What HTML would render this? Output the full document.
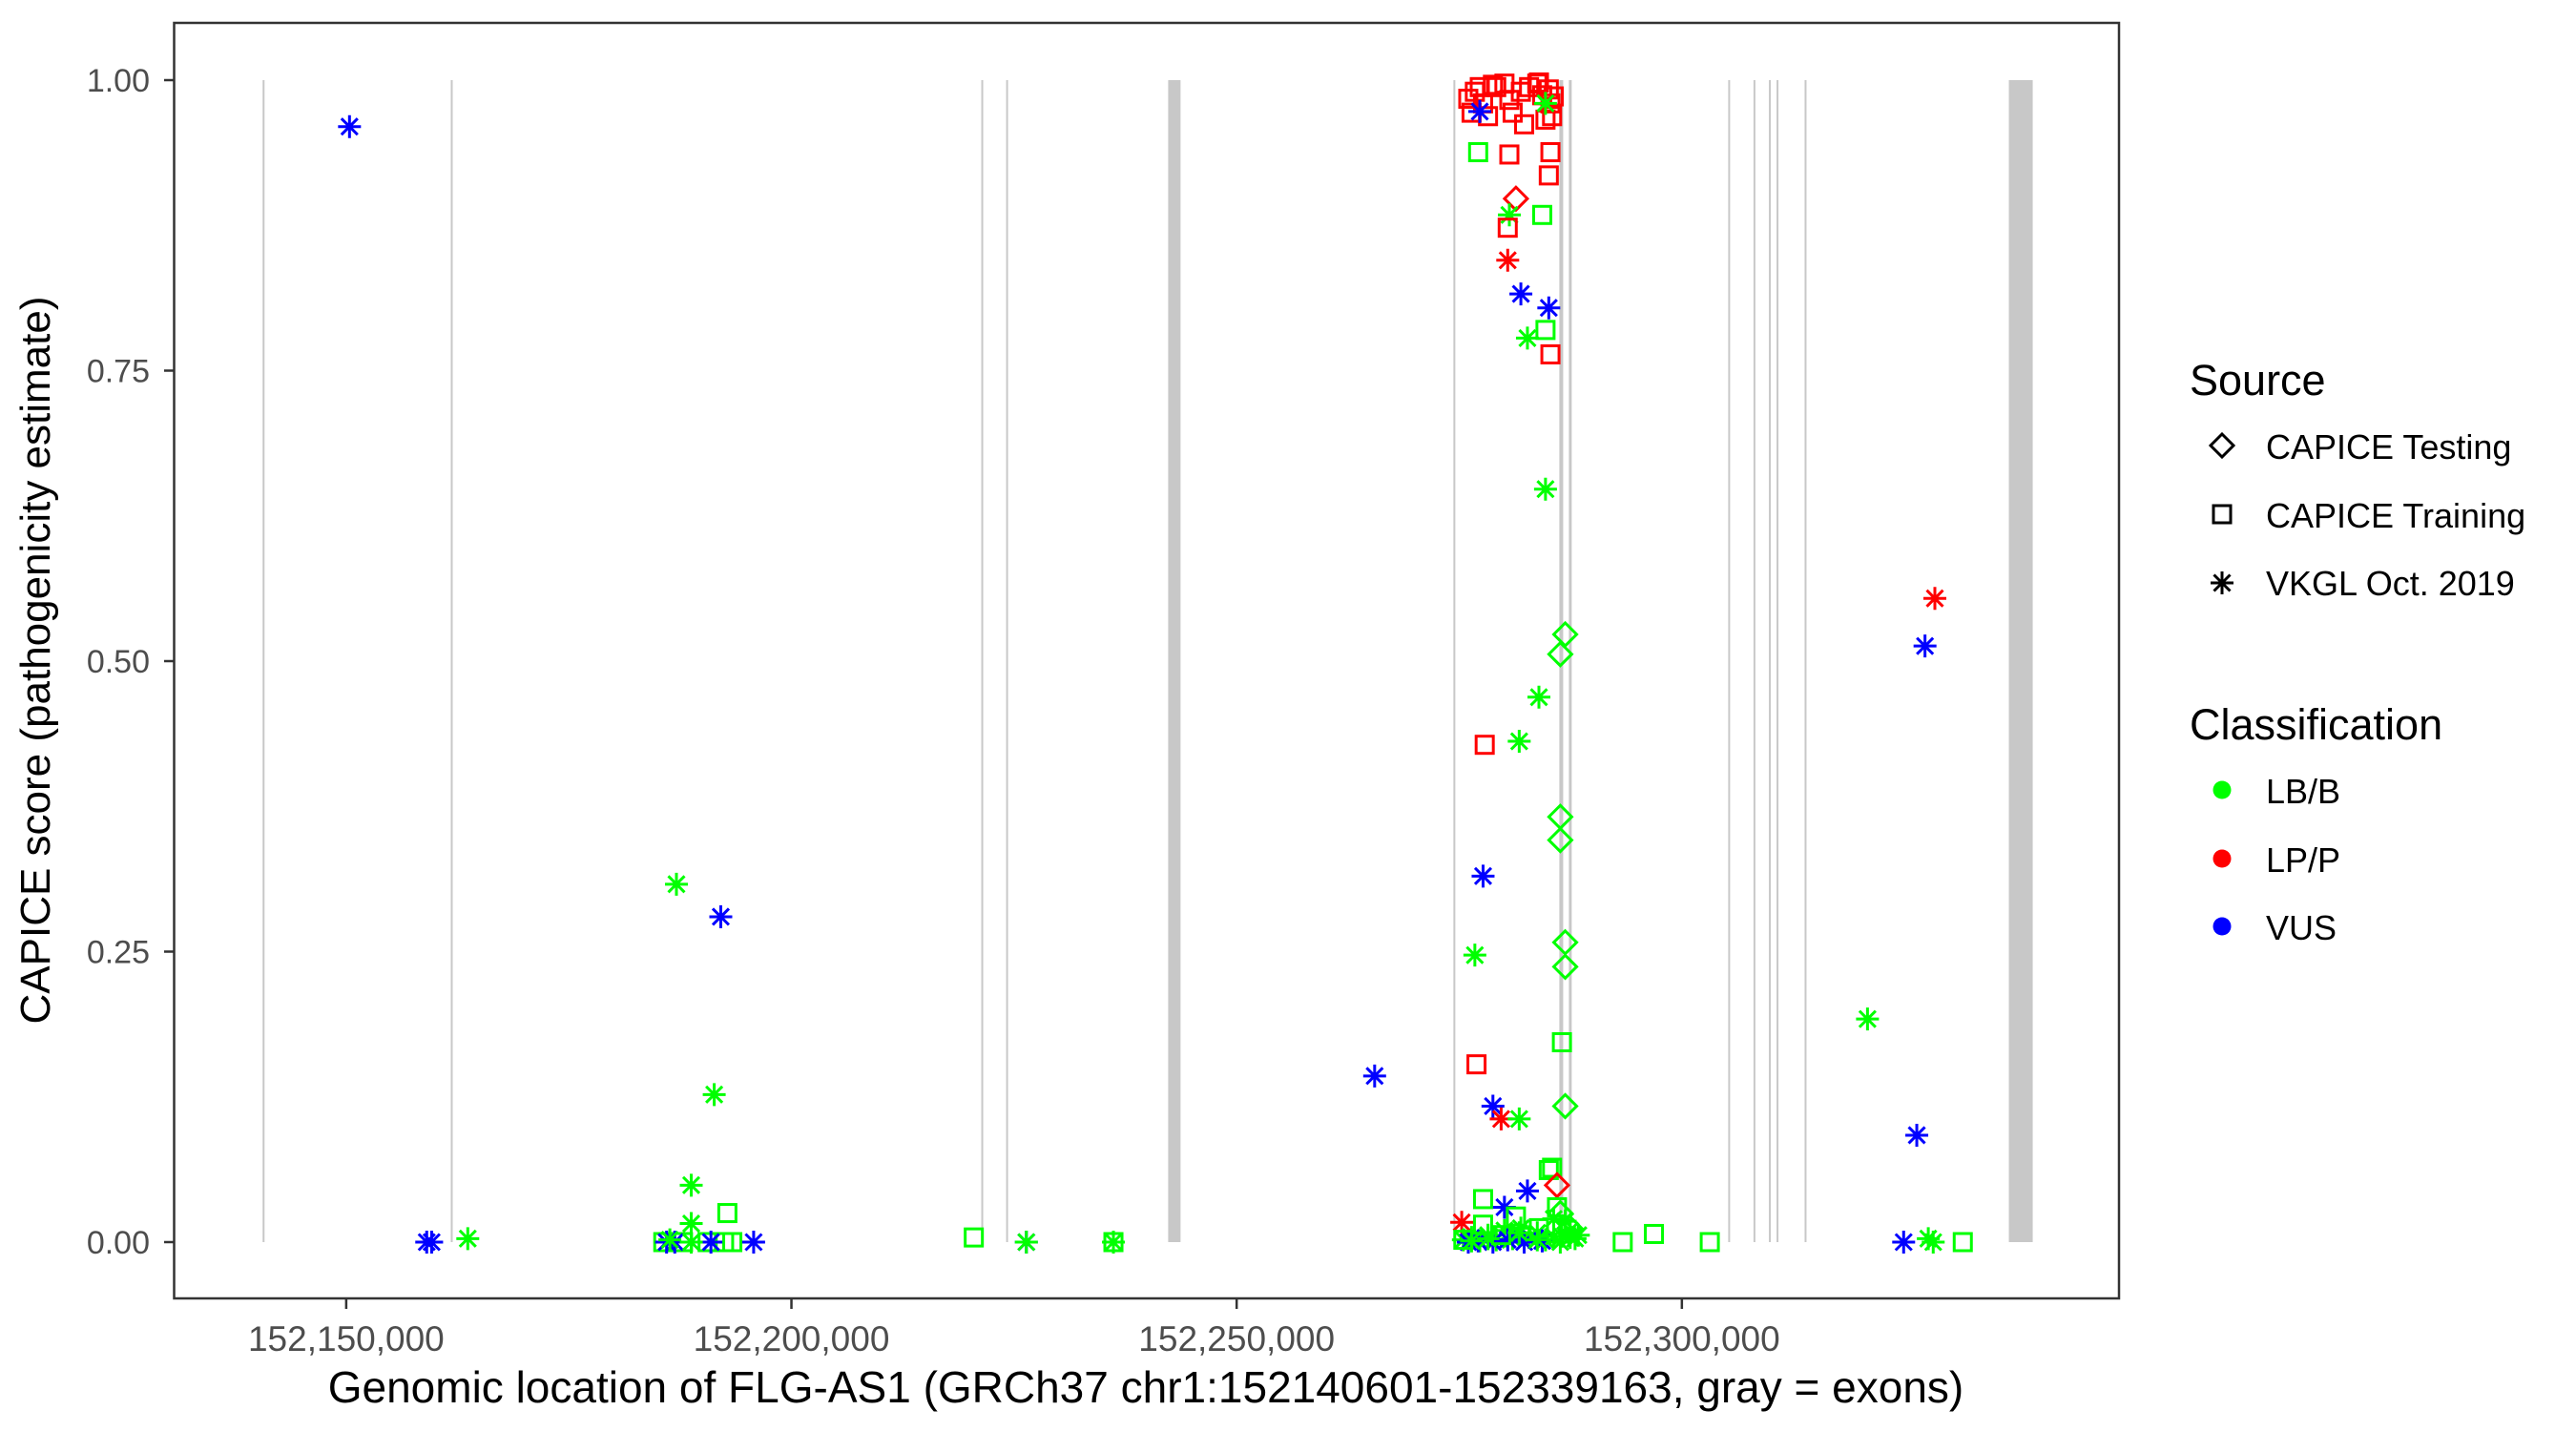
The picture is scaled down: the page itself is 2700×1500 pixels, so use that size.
<!DOCTYPE html>
<html><head><meta charset="utf-8"><style>
html,body{margin:0;padding:0;background:#fff;}
svg{display:block;font-family:"Liberation Sans",Arial,sans-serif;}
</style></head><body>
<svg id="chart" width="2700" height="1500" viewBox="0 0 2700 1500" xmlns="http://www.w3.org/2000/svg">
<rect x="0" y="0" width="2700" height="1500" fill="#fff"/>
<g id="exons"></g>
<g id="points"></g>
<rect x="182.5" y="24" width="2038.5" height="1337" fill="none" stroke="#333" stroke-width="2.5"/>
<g id="yaxis"></g>
<g id="xaxis"></g>
<text x="1201" y="1470" font-size="46" text-anchor="middle" fill="#000">Genomic location of FLG-AS1 (GRCh37 chr1:152140601-152339163, gray = exons)</text>
<text transform="translate(52,692) rotate(-90)" font-size="44" text-anchor="middle" fill="#000">CAPICE score (pathogenicity estimate)</text>
<g>
<text x="2295" y="414" font-size="45" fill="#000">Source</text>
<g>
<path d="M2329,455 L2341,467 L2329,479 L2317,467 Z" fill="none" stroke="#000" stroke-width="3"/>
<text x="2375" y="481" font-size="36" fill="#000">CAPICE Testing</text></g>
<g>
<rect x="2320" y="530" width="18" height="18" fill="none" stroke="#000" stroke-width="3"/>
<text x="2375" y="553" font-size="36" fill="#000">CAPICE Training</text></g>
<g>
<path d="M2317,611 H2341 M2329,599 V623 M2320.5,602.5 L2337.5,619.5 M2337.5,602.5 L2320.5,619.5" stroke="#000" stroke-width="3"/>
<text x="2375" y="624" font-size="36" fill="#000">VKGL Oct. 2019</text></g>
<text x="2295" y="775" font-size="45" fill="#000">Classification</text>
<g>
<circle cx="2329" cy="828" r="9.5" fill="#00ff00"/>
<text x="2375" y="842" font-size="36" fill="#000">LB/B</text></g>
<g>
<circle cx="2329" cy="900" r="9.5" fill="#ff0000"/>
<text x="2375" y="914" font-size="36" fill="#000">LP/P</text></g>
<g>
<circle cx="2329" cy="971" r="9.5" fill="#0000ff"/>
<text x="2375" y="985" font-size="36" fill="#000">VUS</text></g>
</g>
</svg>
<script>
// exon ranges (genomic)
const exonStarts = [152140720,152161850,152221430,152224220,152242310,152274450,152286240,152287310,152305310,152308150,152309880,152310740,152313890,152336720];
const exonEnds   = [152140720,152161850,152221430,152224220,152243700,152274450,152286670,152287630,152305310,152308150,152309880,152310740,152313890,152339400];
const xTicks = [152150000,152200000,152250000,152300000];
const xTickLabels = ["152,150,000","152,200,000","152,250,000","152,300,000"];
const yTicks = [0,0.25,0.5,0.75,1];
const yTickLabels = ["0.00","0.25","0.50","0.75","1.00"];
// points: genomic position, score, source (T=testing,R=training,V=VKGL), class (B,P,U)
const pos = [
152150369,152159041,152159594,152163653,
152187085,152192066,152191328,152188745,152188745,152192804,
152185609,152187823,152190590,152192435,152193358,
152185978,152186900,152190959,152195756,152186347,152188745,
152220479,152226383,152226383,152236162,152236162,152265497,
152276014,152276383,152277305,152278228,152280073,152280626,152281918,152282840,152283763,152284316,152285239,152285608,152280995,152282287,152284685,152285423,152279150,152277674,152276752,152278781,152283947,152285054,
152277305,152284685,
152277121,152280626,152285239,152285054,
152281364,152280626,152284316,152280442,152280442,
152281918,152285054,152284685,152282656,152285239,152284685,
152328412,152327305,152286899,152286346,152283947,152277859,152281733,152286346,152286346,152277674,152276752,152286899,152286899,152320847,152286530,152276936,
152278781,152279704,152281733,152286899,152326382,152285054,152285423,152285977,152282656,152277674,152275276,152280073,
152275460,152276383,152277305,152278228,152279150,152280073,152280995,152281918,152282840,152283763,152284685,152285608,152286530,152287453,152288006,152288375,
152276014,152277121,152278781,152280442,152282287,152284316,152286346,152287453,
152275460,152277674,152279704,152281364,152283947,152285977,
152276383,152278228,152281733,152283763,152285608,152286899,
152287453,152286346,
152293357,152296862,152303135,152324906,152327674,152328227,152331548];
const score = [
0.960,0,0,0.003,
0.308,0.280,0.127,0.049,0.016,0.025,
0,0,0,0,0,
0,0,0,0,0.002,0,
0.004,0,0,0,0,0.143,
0.984,0.972,0.994,0.969,0.997,0.983,0.990,0.994,0.997,0.987,0.980,0.986,0.972,0.962,0.966,0.969,0.994,0.980,0.990,0.996,0.998,0.992,
0.973,0.980,
0.938,0.936,0.938,0.918,
0.898,0.884,0.884,0.873,0.845,
0.816,0.804,0.785,0.778,0.764,0.648,
0.554,0.513,0.523,0.506,0.469,0.428,0.431,0.366,0.346,0.315,0.247,0.258,0.237,0.192,0.172,0.153,
0.117,0.106,0.106,0.117,0.092,0.062,0.064,0.049,0.044,0.037,0.017,0.030,
0.002,0.004,0.001,0.006,0.002,0.010,0.003,0.012,0.004,0.008,0.002,0.020,0.005,0.010,0.003,0.006,
0.000,0.001,0.000,0.002,0.000,0.001,0.000,0.004,
0.002,0.015,0.006,0.022,0.012,0.030,
0.001,0.003,0.008,0.002,0.005,0.018,
0.012,0.025,
0,0.007,0,0,0.003,0,0];
const source = [
'V','V','V','V',
'V','V','V','V','V','R',
'R','R','R','R','R',
'V','V','V','V','V','V',
'R','V','V','V','R','V',
'R','R','R','R','R','R','R','R','R','R','R','R','R','R','R','R','R','R','R','R','R','R',
'V','V',
'R','R','R','R',
'T','V','R','R','V',
'V','V','R','V','R','V',
'V','V','T','T','V','R','V','T','T','V','V','T','T','V','R','R',
'V','V','V','T','V','R','R','T','V','R','V','V',
'V','V','V','V','V','V','V','V','V','V','V','V','V','V','V','V',
'V','V','V','V','V','V','V','V',
'R','R','R','R','R','R',
'V','V','V','V','V','V',
'T','T',
'R','R','R','V','V','V','R'];
const cls = [
'U','U','U','B',
'B','U','B','B','B','B',
'B','B','B','B','B',
'U','U','U','U','B','B',
'B','U','B','B','B','U',
'P','P','P','P','P','P','P','P','P','P','P','P','P','P','P','P','P','P','P','P','P','P',
'U','B',
'B','P','P','P',
'P','B','B','P','P',
'U','U','B','B','P','B',
'P','U','B','B','B','P','B','B','B','U','B','B','B','B','B','P',
'U','P','B','B','U','B','B','P','U','B','P','U',
'B','B','B','B','B','B','B','B','B','B','B','B','B','B','B','B',
'U','U','U','U','U','U','B','B',
'B','B','B','B','B','B',
'B','B','B','B','B','B',
'B','B',
'B','B','B','U','B','B','B'];

const NS = "http://www.w3.org/2000/svg";
const X0 = 152130673, X1 = 152349091, PL = 182.5, PR = 2221;
function xs(v){ return PL + (v - X0) / (X1 - X0) * (PR - PL); }
function ys(v){ return 1302 - v * 1218; }
const colors = {B:'#00ff00', P:'#ff0000', U:'#0000ff'};

const exG = document.getElementById('exons');
for (let i = 0; i < exonStarts.length; i++) {
  const x1 = xs(exonStarts[i]), x2 = xs(exonEnds[i]);
  const r = document.createElementNS(NS, 'rect');
  const w = Math.max(2, x2 - x1);
  r.setAttribute('x', (x1 + x2) / 2 - w / 2);
  r.setAttribute('y', ys(1));
  r.setAttribute('width', w);
  r.setAttribute('height', ys(0) - ys(1));
  r.setAttribute('fill', '#c8c8c8');
  
  
  exG.appendChild(r);
}

const yG = document.getElementById('yaxis');
for (let i = 0; i < yTicks.length; i++) {
  const y = ys(yTicks[i]);
  const t = document.createElementNS(NS, 'line');
  t.setAttribute('x1', 172); t.setAttribute('x2', 182.5);
  t.setAttribute('y1', y); t.setAttribute('y2', y);
  t.setAttribute('stroke', '#333'); t.setAttribute('stroke-width', '2.5');
  
  
  yG.appendChild(t);
  const l = document.createElementNS(NS, 'text');
  l.setAttribute('x', 157); l.setAttribute('y', y + 12);
  l.setAttribute('font-size', '34'); l.setAttribute('fill', '#4d4d4d');
  l.setAttribute('text-anchor', 'end');
  l.textContent = yTickLabels[i];
  
  
  yG.appendChild(l);
}
const xG = document.getElementById('xaxis');
for (let i = 0; i < xTicks.length; i++) {
  const x = xs(xTicks[i]);
  const t = document.createElementNS(NS, 'line');
  t.setAttribute('x1', x); t.setAttribute('x2', x);
  t.setAttribute('y1', 1361); t.setAttribute('y2', 1372);
  t.setAttribute('stroke', '#333'); t.setAttribute('stroke-width', '2.5');
  
  
  xG.appendChild(t);
  const l = document.createElementNS(NS, 'text');
  l.setAttribute('x', x); l.setAttribute('y', 1416);
  l.setAttribute('font-size', '37'); l.setAttribute('fill', '#4d4d4d');
  l.setAttribute('text-anchor', 'middle');
  l.textContent = xTickLabels[i];
  
  
  xG.appendChild(l);
}

const pG = document.getElementById('points');
for (let i = 0; i < pos.length; i++) {
  const x = xs(pos[i]), y = ys(score[i]), c = colors[cls[i]];
  let el;
  if (source[i] === 'R') {
    el = document.createElementNS(NS, 'rect');
    el.setAttribute('x', x - 9); el.setAttribute('y', y - 9);
    el.setAttribute('width', 18); el.setAttribute('height', 18);
    el.setAttribute('fill', 'none');
  } else if (source[i] === 'T') {
    el = document.createElementNS(NS, 'path');
    el.setAttribute('d', `M${x},${y-12} L${x+12},${y} L${x},${y+12} L${x-12},${y} Z`);
    el.setAttribute('fill', 'none');
  } else {
    el = document.createElementNS(NS, 'path');
    el.setAttribute('d', `M${x-12},${y} H${x+12} M${x},${y-12} V${y+12} M${x-8.5},${y-8.5} L${x+8.5},${y+8.5} M${x+8.5},${y-8.5} L${x-8.5},${y+8.5}`);
  }
  el.setAttribute('stroke', c);
  el.setAttribute('stroke-width', '3');
  
  
  pG.appendChild(el);
}
</script>
</body></html>
